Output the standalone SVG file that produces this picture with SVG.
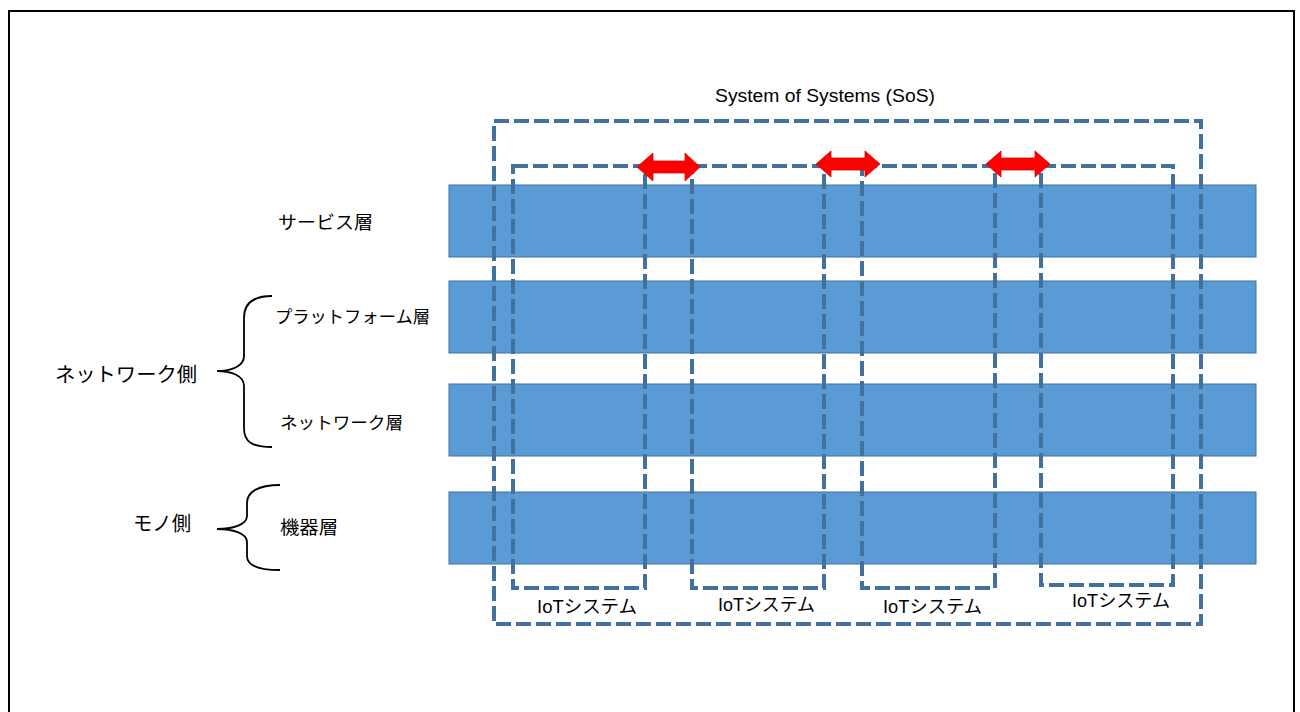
<svg xmlns="http://www.w3.org/2000/svg" width="1300" height="712" viewBox="0 0 1300 712">
<style>
.band{fill:#5B9BD5;stroke:#41719C;stroke-width:1}
.dash{fill:none;stroke:#41719C;stroke-width:4;stroke-dasharray:15 5}
.arrow{fill:#FF0000;stroke:#E00000;stroke-width:0.8}
.brace{fill:none;stroke:#000;stroke-width:1.8}
.jp{font-family:"Noto Sans CJK JP","Liberation Sans",sans-serif;fill:#000}
.lat{font-family:"Liberation Sans","Noto Sans CJK JP",sans-serif;fill:#000}
</style>
<rect x="0" y="0" width="1300" height="712" fill="#fff"/>
<rect x="9" y="11" width="1285" height="730" fill="none" stroke="#000" stroke-width="2"/>
<g id="layers">
<rect id="band-service" class="band" x="449" y="185" width="807" height="72"/>
<rect id="band-platform" class="band" x="449" y="281" width="807" height="72"/>
<rect id="band-network" class="band" x="449" y="384" width="807" height="72"/>
<rect id="band-device" class="band" x="449" y="492" width="807" height="72"/>
</g>
<g id="sos">
<rect class="dash" x="494" y="121" width="707" height="503"/>
<text class="lat" x="715" y="102" font-size="18" textLength="220" lengthAdjust="spacingAndGlyphs">System of Systems (SoS)</text>
</g>
<g id="iot1">
<rect class="dash" x="513" y="166" width="132" height="422"/>
<text class="lat" x="537" y="613" font-size="18" textLength="100" lengthAdjust="spacingAndGlyphs">IoTシステム</text>
</g>
<g id="iot2">
<rect class="dash" x="692" y="166" width="132" height="422"/>
<text class="lat" x="718" y="611" font-size="18" textLength="97" lengthAdjust="spacingAndGlyphs">IoTシステム</text>
</g>
<g id="iot3">
<rect class="dash" x="862" y="166" width="133" height="422"/>
<text class="lat" x="883" y="613" font-size="18" textLength="99" lengthAdjust="spacingAndGlyphs">IoTシステム</text>
</g>
<g id="iot4">
<rect class="dash" x="1041" y="166" width="132" height="419"/>
<text class="lat" x="1072" y="607" font-size="18" textLength="98" lengthAdjust="spacingAndGlyphs">IoTシステム</text>
</g>
<g id="connectors">
<path class="arrow" d="M637,167 L653,153 L653,161 L685,161 L685,153 L700,167 L685,181 L685,173 L653,173 L653,181 Z"/>
<path class="arrow" d="M816,164 L831,151 L831,158 L865,158 L865,151 L880,164 L865,177 L865,170 L831,170 L831,177 Z"/>
<path class="arrow" d="M986,164 L1001,151 L1001,158 L1035,158 L1035,151 L1050,164 L1035,177 L1035,170 L1001,170 L1001,177 Z"/>
</g>
<g id="label-service"><text class="jp" x="278" y="229" font-size="18" textLength="95" lengthAdjust="spacingAndGlyphs">サービス層</text></g>
<g id="label-platform"><text class="jp" x="275" y="323" font-size="17" textLength="155" lengthAdjust="spacingAndGlyphs">プラットフォーム層</text></g>
<g id="label-network"><text class="jp" x="280" y="429" font-size="17" textLength="123" lengthAdjust="spacingAndGlyphs">ネットワーク層</text></g>
<g id="label-device"><text class="jp" x="280" y="534" font-size="18" textLength="58" lengthAdjust="spacingAndGlyphs">機器層</text></g>
<g id="group-network-side">
<path class="brace" d="M272,296 C252,296 244,304 244,318 L244,356 C244,366 232,371 217,371 C232,371 244,376 244,386 L244,428 C244,442 252,447 272,447"/>
<text class="jp" x="55" y="382" font-size="20" textLength="142" lengthAdjust="spacingAndGlyphs">ネットワーク側</text>
</g>
<g id="group-thing-side">
<path class="brace" d="M280,485 C258,485 247,492 247,503 L247,516 C247,525 232,529 217,529 C232,529 247,533 247,542 L247,556 C247,566 258,570 280,570"/>
<text class="jp" x="133" y="531" font-size="20" textLength="58" lengthAdjust="spacingAndGlyphs">モノ側</text>
</g>
</svg>
